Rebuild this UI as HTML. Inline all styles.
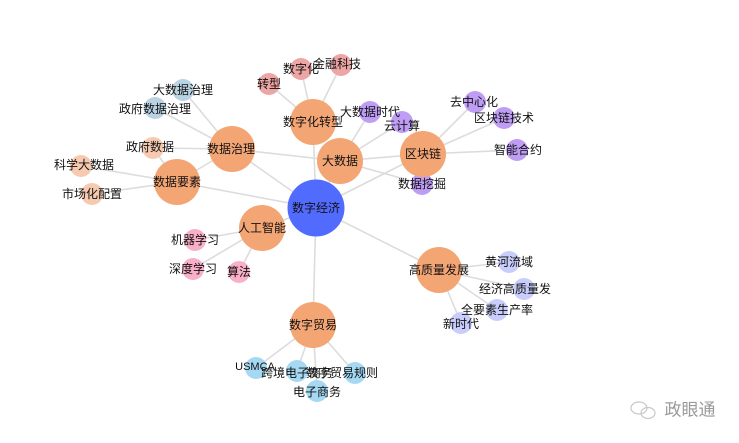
<!DOCTYPE html>
<html><head><meta charset="utf-8"><style>
html,body{margin:0;padding:0;background:#fff;width:739px;height:443px;overflow:hidden}
text{font-family:"Liberation Sans","Noto Sans CJK SC",sans-serif;font-size:12px;fill:#111;text-anchor:middle;dominant-baseline:central}
line{stroke:#dcdcdc;stroke-width:1.6}
</style></head><body>
<svg width="739" height="443" viewBox="0 0 739 443">
<g>
<line x1="316" y1="208" x2="177" y2="182"/><line x1="316" y1="208" x2="232" y2="149"/>
<line x1="316" y1="208" x2="262" y2="228"/><line x1="316" y1="208" x2="313" y2="122"/>
<line x1="316" y1="208" x2="340" y2="161"/><line x1="316" y1="208" x2="423" y2="154"/>
<line x1="316" y1="208" x2="439" y2="270"/><line x1="316" y1="208" x2="313" y2="325"/>
<line x1="232" y1="149" x2="340" y2="161"/><line x1="340" y1="161" x2="423" y2="154"/>
<line x1="340" y1="161" x2="422" y2="184"/><line x1="340" y1="161" x2="370" y2="112"/>
<line x1="340" y1="161" x2="402" y2="122"/>
<line x1="232" y1="149" x2="183" y2="90"/><line x1="232" y1="149" x2="155" y2="108"/>
<line x1="232" y1="149" x2="153" y2="148"/><line x1="232" y1="149" x2="177" y2="182"/>
<line x1="177" y1="182" x2="153" y2="148"/>
<line x1="177" y1="182" x2="81" y2="166"/><line x1="177" y1="182" x2="92" y2="194"/>
<line x1="313" y1="122" x2="269" y2="84"/><line x1="313" y1="122" x2="301" y2="69"/>
<line x1="313" y1="122" x2="341" y2="65"/>
<line x1="423" y1="154" x2="475" y2="102"/><line x1="423" y1="154" x2="504" y2="118"/>
<line x1="423" y1="154" x2="517" y2="150"/>
<line x1="262" y1="228" x2="195" y2="240"/><line x1="262" y1="228" x2="193" y2="269"/>
<line x1="262" y1="228" x2="239" y2="272"/>
<line x1="439" y1="270" x2="509" y2="262"/><line x1="439" y1="270" x2="524" y2="289"/>
<line x1="439" y1="270" x2="497" y2="310"/><line x1="439" y1="270" x2="461" y2="323"/>
<line x1="313" y1="325" x2="256" y2="368"/><line x1="313" y1="325" x2="297" y2="371"/>
<line x1="313" y1="325" x2="355" y2="373"/><line x1="313" y1="325" x2="317" y2="391"/>
</g>
<g>
<circle cx="183" cy="90" r="11" fill="#b9d3e3"/><circle cx="155" cy="108" r="11" fill="#b9d3e3"/>
<circle cx="153" cy="148" r="11" fill="#f6c9b0"/><circle cx="81" cy="166" r="11" fill="#f6c9b0"/>
<circle cx="92" cy="194" r="11" fill="#f6c9b0"/>
<circle cx="269" cy="84" r="11" fill="#eda5a5"/><circle cx="301" cy="69" r="11" fill="#eda5a5"/>
<circle cx="341" cy="65" r="11" fill="#eda5a5"/>
<circle cx="370" cy="112" r="11" fill="#bf9df5"/><circle cx="402" cy="122" r="11" fill="#bf9df5"/>
<circle cx="422" cy="184" r="11" fill="#bf9df5"/><circle cx="475" cy="102" r="11" fill="#bf9df5"/>
<circle cx="504" cy="118" r="11" fill="#bf9df5"/><circle cx="517" cy="150" r="11" fill="#bf9df5"/>
<circle cx="195" cy="240" r="11" fill="#f9aec9"/><circle cx="193" cy="269" r="11" fill="#f9aec9"/>
<circle cx="239" cy="272" r="11" fill="#f9aec9"/>
<circle cx="509" cy="262" r="11" fill="#c9cdfb"/><circle cx="524" cy="289" r="11" fill="#c9cdfb"/>
<circle cx="497" cy="310" r="11" fill="#c9cdfb"/><circle cx="461" cy="323" r="11" fill="#c9cdfb"/>
<circle cx="256" cy="368" r="11" fill="#a5d8f3"/><circle cx="297" cy="371" r="11" fill="#a5d8f3"/>
<circle cx="355" cy="373" r="11" fill="#a5d8f3"/><circle cx="317" cy="391" r="11" fill="#a5d8f3"/>
<circle cx="232" cy="149" r="23" fill="#f4a574"/><circle cx="177" cy="182" r="23" fill="#f4a574"/>
<circle cx="262" cy="228" r="23" fill="#f4a574"/><circle cx="313" cy="122" r="23" fill="#f4a574"/>
<circle cx="340" cy="161" r="23" fill="#f4a574"/><circle cx="423" cy="154" r="23" fill="#f4a574"/>
<circle cx="439" cy="270" r="23" fill="#f4a574"/><circle cx="313" cy="325" r="23" fill="#f4a574"/>
<circle cx="316" cy="208" r="28.5" fill="#526bff"/>
</g>
<g>
<text x="183" y="90">大数据治理</text><text x="155" y="109">政府数据治理</text>
<text x="150" y="147">政府数据</text><text x="84" y="165">科学大数据</text>
<text x="92" y="194">市场化配置</text>
<text x="269" y="84">转型</text><text x="301" y="69">数字化</text><text x="337" y="64">金融科技</text>
<text x="370" y="112">大数据时代</text><text x="402" y="126">云计算</text><text x="422" y="184">数据挖掘</text>
<text x="474" y="102">去中心化</text><text x="504" y="118">区块链技术</text><text x="518" y="150">智能合约</text>
<text x="195" y="240">机器学习</text><text x="193" y="269">深度学习</text><text x="239" y="272">算法</text>
<text x="509" y="262">黄河流域</text><text x="515" y="289">经济高质量发</text>
<text x="497" y="310">全要素生产率</text><text x="461" y="324">新时代</text>
<text x="255" y="367" style="font-size:11px">USMCA</text><text x="297" y="373">跨境电子商务</text>
<text x="342" y="373">数字贸易规则</text><text x="317" y="392">电子商务</text>
<text x="231" y="149">数据治理</text><text x="177" y="182">数据要素</text>
<text x="262" y="228">人工智能</text><text x="313" y="122">数字化转型</text>
<text x="340" y="161">大数据</text><text x="423" y="154">区块链</text>
<text x="439" y="270">高质量发展</text><text x="313" y="325">数字贸易</text>
<text x="316" y="208">数字经济</text>
</g>
<g fill="none" stroke="#c8c8c8" stroke-width="1.2">
<ellipse cx="639" cy="408" rx="8" ry="6"/><ellipse cx="648" cy="413" rx="7" ry="5.5"/>
</g>
<text x="690" y="410" style="font-size:17px;fill:#9a9a9a">政眼通</text>
</svg>
</body></html>
